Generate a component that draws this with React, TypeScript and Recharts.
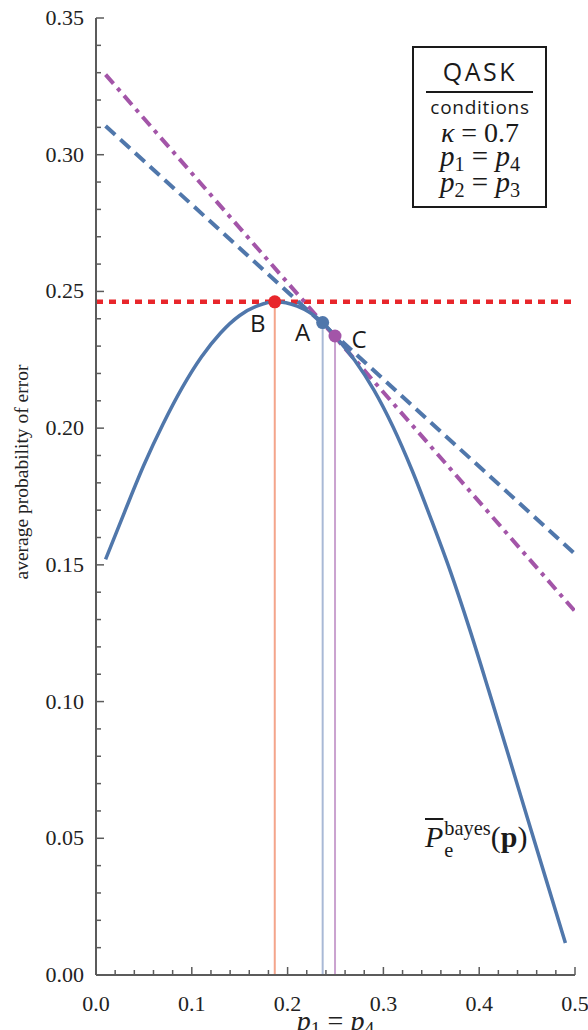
import React from 'react';
import { ComposedChart, Line, Scatter, XAxis, YAxis } from 'recharts';

// Bayes error curve
const curveX = [0.01, 0.03, 0.05, 0.07, 0.09, 0.11, 0.13, 0.15, 0.17, 0.1866, 0.21, 0.2366, 0.2495, 0.27, 0.29, 0.31, 0.33, 0.35, 0.37, 0.39, 0.41, 0.43, 0.45, 0.47, 0.49];
const curveY = [0.152, 0.1695, 0.1865, 0.2015, 0.2148, 0.226, 0.2348, 0.2412, 0.2449, 0.2462, 0.2446, 0.2386, 0.2337, 0.2248, 0.214, 0.2005, 0.1845, 0.1665, 0.1475, 0.1265, 0.104, 0.081, 0.0578, 0.0347, 0.0117];

// tangent at A (dashed) and at C (dash-dot)
const tangentAX = [0.01, 0.5];
const tangentAY = [0.3105, 0.154];
const tangentCX = [0.01, 0.5];
const tangentCY = [0.3293, 0.133];

// level of the maximum (red dotted)
const maxLevelX = [0, 0.5];
const maxLevelY = [0.2462, 0.2462];

// marked points
const pointNames = ['B', 'A', 'C'];
const pointX = [0.1866, 0.2366, 0.2495];
const pointY = [0.2462, 0.2386, 0.2337];

const xMajor = [0, 0.1, 0.2, 0.3, 0.4, 0.5];
const yMajor = [0, 0.05, 0.1, 0.15, 0.2, 0.25, 0.3, 0.35];
const xTicks = Array.from({ length: 26 }, (_, i) => +(i * 0.02).toFixed(2));
const yTicks = Array.from({ length: 36 }, (_, i) => +(i * 0.01).toFixed(2));

const FRAME = '#5b5b5b';
const BLUE = '#5077ab';
const PURPLE = '#a355a8';
const RED = '#e8262b';
const SERIF = '"Liberation Serif", "Times New Roman", serif';
const SANS = '"Open Sans", sans-serif';

const pointStyle: Record<string, { dot: string; stem: string; dx: number; dy: number }> = {
  B: { dot: RED, stem: '#f4a58b', dx: -17, dy: 21 },
  A: { dot: BLUE, stem: '#a9b9d6', dx: -20, dy: 9 },
  C: { dot: PURPLE, stem: '#caa3d0', dx: 24, dy: 3 },
};

const toPts = (xs: number[], ys: number[]) => xs.map((x, i) => ({ x, y: ys[i] }));
const curve = toPts(curveX, curveY);
const tangentA = toPts(tangentAX, tangentAY);
const tangentC = toPts(tangentCX, tangentCY);
const maxLevel = toPts(maxLevelX, maxLevelY);
const points = pointNames.map((name, i) => ({ name, x: pointX[i], y: pointY[i] }));

const isIn = (arr: number[], v: number) => arr.some((m) => Math.abs(m - v) < 1e-9);

const BottomTick = (props: any) => {
  const { x, y, payload } = props;
  const major = isIn(xMajor, payload.value);
  return (
    <g>
      <line x1={x} y1={y} x2={x} y2={y - (major ? 8 : 5)} stroke={FRAME} strokeWidth={1.5} />
      {major && (
        <text x={x} y={y + 36} textAnchor="middle" fontFamily={SERIF} fontSize={22} fill="#222">
          {payload.value.toFixed(1)}
        </text>
      )}
    </g>
  );
};

const TopTick = (props: any) => {
  const { x, y, payload } = props;
  const major = isIn(xMajor, payload.value);
  return <line x1={x} y1={y} x2={x} y2={y + (major ? 8 : 5)} stroke={FRAME} strokeWidth={1.5} />;
};

const LeftTick = (props: any) => {
  const { x, y, payload } = props;
  const major = isIn(yMajor, payload.value);
  return (
    <g>
      <line x1={x} y1={y} x2={x + (major ? 8 : 5)} y2={y} stroke={FRAME} strokeWidth={1.5} />
      {major && (
        <text x={x - 12} y={y + 7} textAnchor="end" fontFamily={SERIF} fontSize={22} fill="#222">
          {payload.value.toFixed(2)}
        </text>
      )}
    </g>
  );
};

const RightTick = (props: any) => {
  const { x, y, payload } = props;
  const major = isIn(yMajor, payload.value);
  return <line x1={x} y1={y} x2={x - (major ? 8 : 5)} y2={y} stroke={FRAME} strokeWidth={1.5} />;
};

const PointMark = (props: any) => {
  const { cx, cy, payload } = props;
  const s = pointStyle[payload.name];
  return (
    <g>
      <circle cx={cx} cy={cy} r={6.5} fill={s.dot} />
      <text x={cx + s.dx} y={cy + s.dy} textAnchor="middle" dominantBaseline="central" fontFamily={SANS} fontSize={24} fill="#1a1a1a">
        {payload.name}
      </text>
    </g>
  );
};

const Sub = ({ children }: { children: React.ReactNode }) => (
  <span style={{ fontSize: '0.7em', fontStyle: 'normal', position: 'relative', top: '0.25em' }}>{children}</span>
);

const abs = (left: number, top: number, extra: React.CSSProperties = {}): React.CSSProperties => ({
  position: 'absolute',
  left,
  top,
  whiteSpace: 'nowrap',
  lineHeight: 1,
  ...extra,
});

export default function App() {
  return (
    <div style={{ position: 'absolute', left: 0, top: 0, width: 588, height: 1030, background: '#fff', overflow: 'hidden' }}>
      <ComposedChart width={588} height={1030} margin={{ top: 18, right: 13, bottom: 0, left: 8 }}>
        <XAxis
          type="number"
          dataKey="x"
          domain={[0, 0.5]}
          ticks={xTicks}
          interval={0}
          height={55}
          tickSize={0}
          tickMargin={0}
          tickLine={false}
          axisLine={{ stroke: FRAME, strokeWidth: 2 }}
          tick={<BottomTick />}
          allowDataOverflow
        />
        <XAxis
          xAxisId="top"
          orientation="top"
          type="number"
          dataKey="x"
          domain={[0, 0.5]}
          ticks={xTicks}
          interval={0}
          height={0}
          tickSize={0}
          tickMargin={0}
          tickLine={false}
          axisLine={{ stroke: FRAME, strokeWidth: 2 }}
          tick={<TopTick />}
          allowDataOverflow
        />
        <YAxis
          type="number"
          domain={[0, 0.35]}
          ticks={yTicks}
          interval={0}
          width={88}
          tickSize={0}
          tickMargin={0}
          tickLine={false}
          axisLine={{ stroke: FRAME, strokeWidth: 2 }}
          tick={<LeftTick />}
          allowDataOverflow
        />
        <YAxis
          yAxisId="right"
          orientation="right"
          type="number"
          domain={[0, 0.35]}
          ticks={yTicks}
          interval={0}
          width={0}
          tickSize={0}
          tickMargin={0}
          tickLine={false}
          axisLine={{ stroke: FRAME, strokeWidth: 2 }}
          tick={<RightTick />}
          allowDataOverflow
        />
        {points.map((p) => (
          <Line
            key={'stem' + p.name}
            data={[{ x: p.x, y: 0 }, { x: p.x, y: p.y }]}
            dataKey="y"
            stroke={pointStyle[p.name].stem}
            strokeWidth={2}
            dot={false}
            isAnimationActive={false}
          />
        ))}
        <Line data={maxLevel} dataKey="y" stroke={RED} strokeWidth={4.5} strokeDasharray="7 6" dot={false} isAnimationActive={false} />
        <Line data={tangentA} dataKey="y" stroke={BLUE} strokeWidth={4} strokeDasharray="13 7" dot={false} isAnimationActive={false} />
        <Line data={tangentC} dataKey="y" stroke={PURPLE} strokeWidth={4} strokeDasharray="12 6 4 6" dot={false} isAnimationActive={false} />
        <Line data={curve} dataKey="y" type="monotone" stroke={BLUE} strokeWidth={3.5} dot={false} isAnimationActive={false} />
        <Scatter data={points} dataKey="y" shape={<PointMark />} isAnimationActive={false} />
      </ComposedChart>

      {/* y axis title */}
      <div
        style={abs(22, 472, {
          fontFamily: SERIF,
          fontSize: 19.5,
          color: '#222',
          transform: 'translate(-50%, -50%) rotate(-90deg)',
        })}
      >
        average probability of error
      </div>

      {/* x axis title */}
      <div style={abs(335.5, 1007, { fontFamily: SERIF, fontSize: 28, color: '#222', transform: 'translateX(-50%)' })}>
        <i>p</i>
        <Sub>1</Sub> = <i>p</i>
        <Sub>4</Sub>
      </div>

      {/* conditions box */}
      <div style={{ position: 'absolute', left: 412, top: 46, width: 135, height: 162, boxSizing: 'border-box', border: '2px solid #1a1a1a', background: '#fff' }} />
      <div style={abs(480, 58.5, { fontFamily: SANS, fontSize: 25, letterSpacing: 2.5, color: '#1a1a1a', transform: 'translateX(-50%)' })}>QASK</div>
      <div style={{ position: 'absolute', left: 426, top: 90.5, width: 107, height: 2.5, background: '#1a1a1a' }} />
      <div style={abs(480, 98, { fontFamily: SANS, fontSize: 19, letterSpacing: 0.7, color: '#1a1a1a', transform: 'translateX(-50%)' })}>conditions</div>
      <div style={abs(480, 119, { fontFamily: SERIF, fontSize: 28, color: '#1a1a1a', transform: 'translateX(-50%)' })}>
        <i>κ</i> = 0.7
      </div>
      <div style={abs(480, 142, { fontFamily: SERIF, fontSize: 29, color: '#1a1a1a', transform: 'translateX(-50%)' })}>
        <i>p</i>
        <Sub>1</Sub> = <i>p</i>
        <Sub>4</Sub>
      </div>
      <div style={abs(480, 167.5, { fontFamily: SERIF, fontSize: 29, color: '#1a1a1a', transform: 'translateX(-50%)' })}>
        <i>p</i>
        <Sub>2</Sub> = <i>p</i>
        <Sub>3</Sub>
      </div>

      {/* curve annotation */}
      <div style={abs(425, 822, { fontFamily: SERIF, fontSize: 30, color: '#1a1a1a' })}>
        <i style={{ textDecoration: 'overline', textDecorationThickness: 1.5 }}>P</i>
        <span style={{ position: 'relative', fontSize: '0.68em', marginLeft: 1 }}>
          <span style={{ position: 'relative', top: '-0.6em' }}>bayes</span>
          <span style={{ position: 'absolute', left: 0, top: '0.55em' }}>e</span>
        </span>
        (<b>p</b>)
      </div>
    </div>
  );
}
